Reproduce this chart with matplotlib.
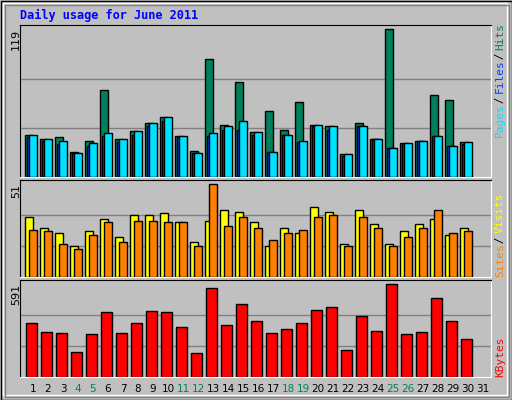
import matplotlib
matplotlib.use("Agg")
import matplotlib.pyplot as plt
from matplotlib.patches import Rectangle

days = list(range(1, 32))
hits = [34.2,31,32,20.5,29.3,70.5,31,37.4,43.9,48.7,33.4,21.3,94.8,42.3,76.2,36.6,52.8,38.2,60.8,42.3,41.5,18.8,43.9,31,119,27.7,29.3,65.7,61.7,28.5]
files = [34.2,31,29.3,19.7,27.7,35.8,31,37.4,43.9,48.7,33.4,19.7,35.8,40.7,45.5,36.6,20.5,34.2,29.3,42.3,41.5,18.8,41.5,31,23.7,27.7,29.3,33.4,25.3,28.5]
pages = [32.6,29.3,26.9,19.7,25.3,33.4,28.5,34.2,40.7,45.5,32.6,19.7,33.4,38.2,38.2,34.2,20.5,34.2,28.5,40.7,38.2,17.2,40.7,31,23.7,26.9,29.3,33.4,25.3,26.9]
sites = [33.3,27.2,24.4,17.2,25.5,32.2,22.2,34.4,34.4,35.5,30.5,19.4,31,37.1,36,30.5,17.2,27.2,24.4,38.3,36,18.3,37.1,29.4,18.3,25.5,29.4,32.2,23.3,27.2]
visits = [26.1,25.5,18.3,15.5,23.3,30.5,19.4,31,31,30.5,30.5,17.2,51,28.3,33.3,27.2,20.5,24.4,26.1,33.3,34.4,17.2,33.3,27.2,17.2,22.2,27.2,37.1,24.4,25.5]
kbytes = [344,286,279,162,273,416,279,344,422,416,318,156,565,331,468,357,279,305,344,429,448,175,390,292,591,273,286,507,357,240]
weekend = [4,5,11,12,18,19,25,26]
top_labels = ["119", "51", "591"]

W, H = 512, 400
fig = plt.figure(figsize=(W/100, H/100), dpi=100, facecolor="#C0C0C0")
bg = fig.add_axes([0, 0, 1, 1]); bg.set_xlim(0, W); bg.set_ylim(H, 0); bg.axis("off")
bg.add_patch(Rectangle((0.5, 0.5), W-1, H-1, fill=False, ec="black", lw=1))
bg.add_patch(Rectangle((3, 3), W-8, H-8, fill=False, ec="white", lw=1))
bg.add_patch(Rectangle((5, 5), W-8, H-8, fill=False, ec="#808080", lw=1))
bg.text(20, 15, "Daily usage for June 2011", color="#0000FF", fontsize=8.6,
        family="DejaVu Sans Mono", weight="bold", va="center", ha="left")

def panel(y0, y1, ymax):
    ax = fig.add_axes([20/W, 1-y1/H, 471/W, (y1-y0)/H])
    ax.set_facecolor("#C0C0C0")
    ax.set_xlim(0, 31.4); ax.set_ylim(0, ymax)
    ax.set_xticks([]); ax.set_yticks([])
    for s in ["top", "left"]:
        ax.spines[s].set_color("black")
    for s in ["bottom", "right"]:
        ax.spines[s].set_color("white")
    return ax

ec = dict(edgecolor="black", linewidth=1)
x0 = [d-1 for d in days[:30]]

ax1 = panel(25, 177, 122.5)
for g in (119/3, 119*2/3):
    ax1.axhline(g, color="#808080", lw=1, zorder=0)
ax1.bar([x+0.35 for x in x0], hits, 0.49, align="edge", color="#00805C", **ec, zorder=2)
ax1.bar([x+0.49 for x in x0], pages, 0.49, align="edge", color="#0040FF", **ec, zorder=3)
ax1.bar([x+0.62 for x in x0], files, 0.49, align="edge", color="#00E0FF", **ec, zorder=4)

ax2 = panel(180, 277, 53.4)
for g in (17, 34):
    ax2.axhline(g, color="#808080", lw=1, zorder=0)
ax2.bar([x+0.35 for x in x0], sites, 0.53, align="edge", color="#FFFF00", **ec, zorder=2)
ax2.bar([x+0.62 for x in x0], visits, 0.49, align="edge", color="#FF8000", **ec, zorder=3)

ax3 = panel(280, 377, 619)
for g in (197, 394):
    ax3.axhline(g, color="#808080", lw=1, zorder=0)
ax3.bar([x+0.42 for x in x0], kbytes, 0.69, align="edge", color="#FF0000", **ec, zorder=2)

for lab, y in zip(top_labels, (29, 184, 284)):
    bg.text(16, y, lab, rotation=90, ha="center", va="top", fontsize=8, color="black")

for d in days:
    bg.text(20 + 15*(d-1) + 13, 389, str(d), ha="center", va="center", fontsize=7.5,
            color="#00805C" if d in weekend else "black")

def side(parts, ybottom):
    y = ybottom
    for t, c in parts:
        bg.text(500, y, t, rotation=90, ha="center", va="bottom", fontsize=8,
                family="DejaVu Sans Mono", color=c)
        y -= len(t) * 5.45

side([("Pages", "#00E0FF"), (" / ", "black"), ("Files", "#0040FF"), (" / ", "black"), ("Hits", "#00805C")], 137)
side([("Sites", "#FF8000"), (" / ", "black"), ("Visits", "#FFFF00")], 277)
side([("KBytes", "#FF0000")], 377)

fig.savefig("out.png", dpi=100, facecolor="#C0C0C0")
